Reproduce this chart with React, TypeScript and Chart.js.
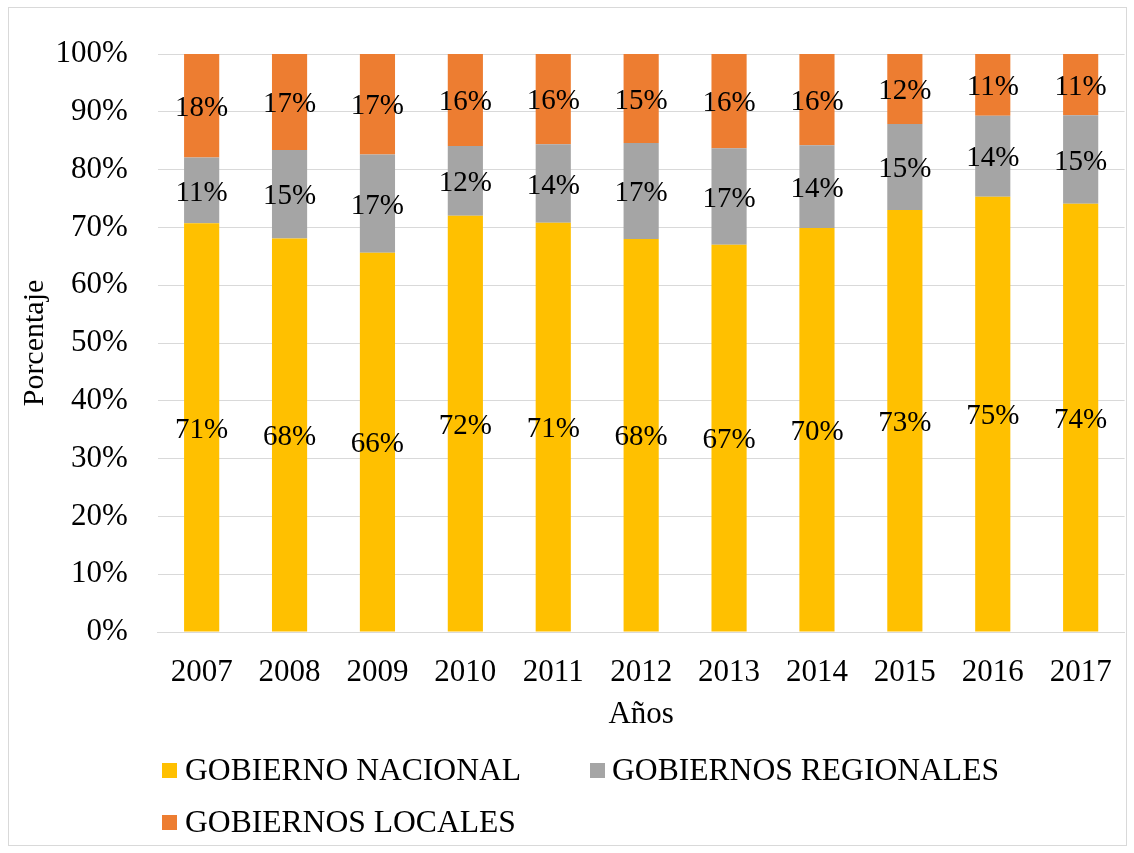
import React, { useEffect, useRef } from "react";
import { Chart, registerables } from "chart.js";

Chart.register(...registerables);

const years = ["2007", "2008", "2009", "2010", "2011", "2012", "2013", "2014", "2015", "2016", "2017"];
const nacional = [70.7, 68.1, 65.6, 72.0, 70.8, 68.0, 67.0, 69.9, 73.0, 75.3, 74.1];
const regionales = [11.4, 15.3, 17.0, 12.1, 13.6, 16.6, 16.7, 14.3, 14.9, 14.0, 15.3];
const locales = [17.9, 16.6, 17.4, 15.9, 15.6, 15.4, 16.3, 15.8, 12.1, 10.7, 10.6];
const yTicks = [0, 10, 20, 30, 40, 50, 60, 70, 80, 90, 100];

const seriesNames = ["GOBIERNO NACIONAL", "GOBIERNOS REGIONALES", "GOBIERNOS LOCALES"];
const seriesColors = ["#FFC000", "#A5A5A5", "#ED7D31"];

const FONT = "'Liberation Serif', 'Times New Roman', serif";

const labelPlugin = {
  id: "segLabels",
  afterDatasetsDraw(chart: any) {
    const ctx = chart.ctx;
    ctx.save();
    ctx.font = `29px ${FONT}`;
    ctx.fillStyle = "#000";
    ctx.textAlign = "center";
    ctx.textBaseline = "middle";
    chart.data.datasets.forEach((ds: any, di: number) => {
      const meta = chart.getDatasetMeta(di);
      meta.data.forEach((el: any, i: number) => {
        const v = ds.data[i];
        const cy = (el.y + el.base) / 2 + 2.5;
        ctx.fillText(Math.round(v) + "%", el.x, cy);
      });
    });
    ctx.restore();
  },
};

export default function App() {
  const ref = useRef<HTMLCanvasElement | null>(null);

  useEffect(() => {
    if (!ref.current) return;
    const font = { family: FONT, size: 31 };
    const chart = new Chart(ref.current, {
      type: "bar",
      data: {
        labels: years,
        datasets: [
          { label: seriesNames[0], data: nacional, backgroundColor: seriesColors[0] },
          { label: seriesNames[1], data: regionales, backgroundColor: seriesColors[1] },
          { label: seriesNames[2], data: locales, backgroundColor: seriesColors[2] },
        ],
      },
      options: {
        responsive: false,
        animation: false,
        devicePixelRatio: 1,
        layout: { padding: { left: 0, right: 7.5, top: 54, bottom: 120 } },
        datasets: { bar: { barPercentage: 0.4, categoryPercentage: 1 } },
        plugins: { legend: { display: false }, tooltip: { enabled: false } },
        scales: {
          x: {
            stacked: true,
            grid: { display: false, drawTicks: false },
            border: { display: true, color: "#D9D9D9", width: 1 },
            ticks: { font, color: "#000", padding: 22, maxRotation: 0, autoSkip: false },
            title: { display: true, text: "Años", font, color: "#000", padding: { top: 0, bottom: 0 } },
            afterFit: (s: any) => { s.height = 101; },
          },
          y: {
            stacked: true,
            min: 0,
            max: 100,
            afterBuildTicks: (s: any) => { s.ticks = yTicks.map((v) => ({ value: v })); },
            ticks: { font, color: "#000", padding: 30, callback: (v: any) => v + "%" },
            grid: { color: "#D9D9D9", lineWidth: 1, drawTicks: false },
            border: { display: false },
            title: { display: true, text: "Porcentaje", font: { family: FONT, size: 30 }, color: "#000", padding: { top: 17, bottom: 0 } },
            afterFit: (s: any) => { s.width = 157.7; },
          },
        },
      },
      plugins: [labelPlugin],
    });
    return () => chart.destroy();
  }, []);

  const textStyle: React.CSSProperties = {
    position: "absolute",
    fontFamily: FONT,
    fontSize: 31.6,
    lineHeight: "32px",
    color: "#000",
    whiteSpace: "nowrap",
  };
  const box = (left: number, top: number, color: string): React.CSSProperties => ({
    position: "absolute", left, top, width: 15, height: 15, background: color,
  });

  return (
    <div style={{ position: "fixed", left: 0, top: 0, width: 1134, height: 853, background: "#fff", overflow: "hidden" }}>
      <div style={{ position: "absolute", left: 8, top: 7, width: 1119, height: 839, border: "1px solid #D9D9D9", boxSizing: "border-box" }} />
      <canvas ref={ref} width={1134} height={853} style={{ position: "absolute", left: 0, top: 0, width: 1134, height: 853 }} />
      <div style={box(162, 763, seriesColors[0])} />
      <div style={{ ...textStyle, left: 185, top: 754 }}>{seriesNames[0]}</div>
      <div style={box(590, 763, seriesColors[1])} />
      <div style={{ ...textStyle, left: 612, top: 754 }}>{seriesNames[1]}</div>
      <div style={box(162, 815, seriesColors[2])} />
      <div style={{ ...textStyle, left: 185, top: 806 }}>{seriesNames[2]}</div>
    </div>
  );
}
